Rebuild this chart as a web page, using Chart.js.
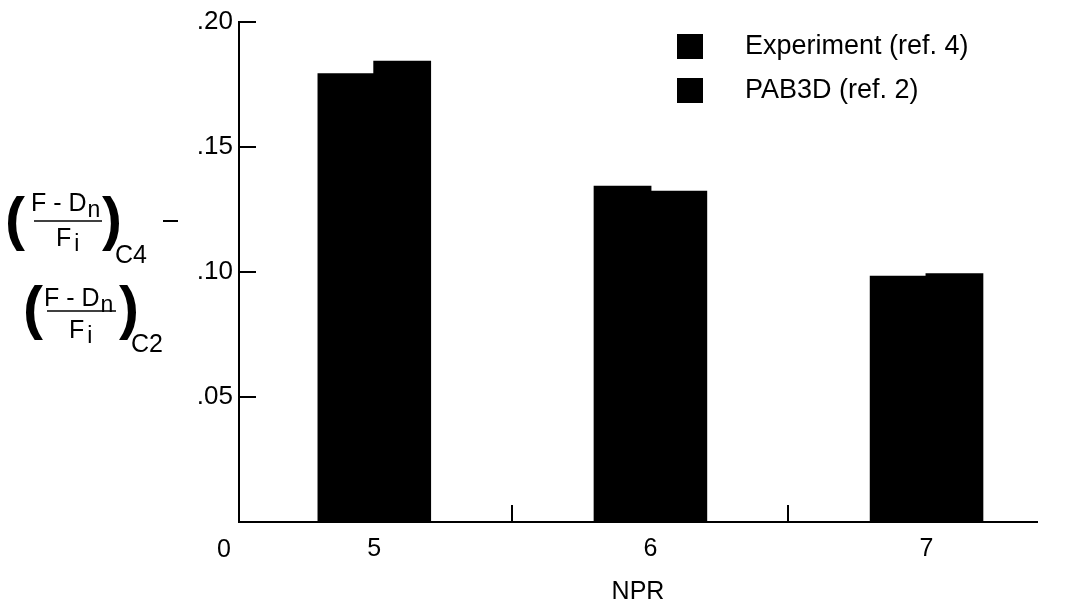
<!DOCTYPE html>
<html>
<head>
<meta charset="utf-8">
<script src="https://cdn.jsdelivr.net/npm/chart.js@4"></script>
<style>
  html, body { margin: 0; padding: 0; background: #fff; }
  #wrap { width: 1067px; height: 607px; }
</style>
</head>
<body>
<div id="wrap"><canvas id="chart" width="1067" height="607"></canvas></div>
<script>
/* ---------- data ---------- */
const npr          = [5, 6, 7];
const experiment   = [0.179, 0.134, 0.098];
const pab3d        = [0.184, 0.132, 0.099];
const seriesNames  = ["Experiment (ref. 4)", "PAB3D (ref. 2)"];
const yTicks       = [0.05, 0.10, 0.15, 0.20];
const xMinorTicks  = [5.5, 6.5];

const FONT = "'Liberation Sans', Arial, Helvetica, sans-serif";

/* ---------- plugins ---------- */

// inward tick marks, "0" at origin
const axisMarks = {
  id: "axisMarks",
  afterDraw(chart) {
    const ctx = chart.ctx;
    const x = chart.scales.x, y = chart.scales.y;
    ctx.save();
    ctx.strokeStyle = "#000";
    ctx.lineWidth = 2;
    yTicks.forEach(v => {
      const py = Math.round(y.getPixelForValue(v));
      ctx.beginPath();
      ctx.moveTo(x.left, py);
      ctx.lineTo(x.left + 17, py);
      ctx.stroke();
    });
    xMinorTicks.forEach(v => {
      const px = Math.round(x.getPixelForValue(v));
      ctx.beginPath();
      ctx.moveTo(px, y.bottom);
      ctx.lineTo(px, y.bottom - 17);
      ctx.stroke();
    });
    ctx.fillStyle = "#000";
    ctx.font = "25px " + FONT;
    ctx.textAlign = "center";
    ctx.textBaseline = "middle";
    ctx.fillText("0", x.left - 15, y.bottom + 28);
    ctx.restore();
  }
};

// legend: two black squares with labels
const boxLegend = {
  id: "boxLegend",
  afterDraw(chart) {
    const ctx = chart.ctx;
    ctx.save();
    ctx.font = "27px " + FONT;
    ctx.textBaseline = "middle";
    ctx.textAlign = "left";
    chart.data.datasets.forEach((ds, i) => {
      const top = 34 + i * 44;
      ctx.fillStyle = ds.backgroundColor;
      ctx.fillRect(677, top, 26, 25);
      ctx.fillStyle = "#000";
      ctx.fillText(ds.label, 745, top + 13);
    });
    ctx.restore();
  }
};

// y axis title: (F - Dn / Fi)C4 - (F - Dn / Fi)C2
const yTitle = {
  id: "yTitle",
  afterDraw(chart) {
    const ctx = chart.ctx;
    ctx.save();
    ctx.fillStyle = "#000";
    ctx.strokeStyle = "#000";
    ctx.textAlign = "left";
    ctx.textBaseline = "alphabetic";

    function fraction(o) {
      // parens
      ctx.font = "bold 60px " + FONT;
      ctx.fillText("(", o.lp, o.pb);
      ctx.fillText(")", o.rp, o.pb);
      // numerator
      ctx.font = "25px " + FONT;
      ctx.fillText("F - D", o.nx, o.nb);
      const w = ctx.measureText("F - D").width;
      ctx.font = "23px " + FONT;
      ctx.fillText("n", o.nx + w + 1, o.nb + 6);
      // bar
      ctx.lineWidth = 1.5;
      ctx.beginPath();
      ctx.moveTo(o.l0, o.ly);
      ctx.lineTo(o.l1, o.ly);
      ctx.stroke();
      // denominator
      ctx.font = "25px " + FONT;
      ctx.fillText("F", o.dx, o.db);
      const wf = ctx.measureText("F").width;
      ctx.font = "23px " + FONT;
      ctx.fillText("i", o.dx + wf + 3, o.db + 5);
      // subscript
      ctx.font = "25px " + FONT;
      ctx.fillText(o.sub, o.sx, o.sb);
    }

    fraction({ lp: 5,  rp: 102, pb: 239, nx: 31, nb: 211, l0: 34, l1: 102, ly: 221,
               dx: 56, db: 246, sub: "C4", sx: 115, sb: 263 });
    fraction({ lp: 23, rp: 119, pb: 328, nx: 44, nb: 306, l0: 47, l1: 116, ly: 311,
               dx: 69, db: 338, sub: "C2", sx: 131, sb: 352 });

    // minus between the two terms
    ctx.lineWidth = 2;
    ctx.beginPath();
    ctx.moveTo(163, 221);
    ctx.lineTo(178, 221);
    ctx.stroke();
    ctx.restore();
  }
};

/* ---------- chart ---------- */

new Chart(document.getElementById("chart"), {
  type: "bar",
  data: {
    datasets: [
      {
        label: seriesNames[0],
        data: npr.map((x, i) => ({ x: x, y: experiment[i] })),
        backgroundColor: "#000"
      },
      {
        label: seriesNames[1],
        data: npr.map((x, i) => ({ x: x, y: pab3d[i] })),
        backgroundColor: "#000"
      }
    ]
  },
  options: {
    responsive: false,
    animation: false,
    layout: { padding: { top: 21, right: 30, left: 0, bottom: 0 } },
    datasets: {
      bar: { barPercentage: 1.0, categoryPercentage: 0.404, borderWidth: 0, inflateAmount: 1 }
    },
    plugins: {
      legend: { display: false },
      tooltip: { enabled: false },
      title: { display: false }
    },
    scales: {
      x: {
        type: "linear",
        offset: false,
        min: 4.51,
        max: 7.4,
        afterBuildTicks: s => { s.ticks = npr.map(v => ({ value: v })); },
        afterFit: s => { s.height = 85; },
        grid: { display: false, drawTicks: false, offset: false },
        border: { display: true, color: "#000", width: 2 },
        ticks: {
          color: "#000",
          font: { family: FONT, size: 25 },
          padding: 12,
          maxRotation: 0,
          callback: v => String(v)
        },
        title: {
          display: true,
          text: "NPR",
          color: "#000",
          font: { family: FONT, size: 25 },
          padding: { top: 5, bottom: 0 }
        }
      },
      y: {
        min: 0,
        max: 0.2,
        afterBuildTicks: s => { s.ticks = [0].concat(yTicks).map(v => ({ value: v })); },
        afterFit: s => { s.width = 239; },
        grid: { display: false, drawTicks: false },
        border: { display: true, color: "#000", width: 2 },
        ticks: {
          color: "#000",
          font: { family: FONT, size: 26 },
          padding: 6,
          callback: v => v === 0 ? "" : "." + Math.round(v * 100).toString().padStart(2, "0")
        }
      }
    }
  },
  plugins: [axisMarks, boxLegend, yTitle]
});
</script>
</body>
</html>
